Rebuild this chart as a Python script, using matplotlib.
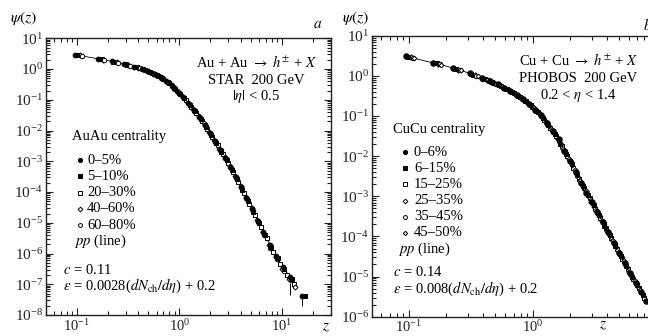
import matplotlib
matplotlib.use("Agg")
import matplotlib.pyplot as plt
from matplotlib.ticker import LogLocator, NullFormatter

plt.rcParams['font.family'] = ['Liberation Serif', 'DejaVu Serif']
plt.rcParams['mathtext.fontset'] = 'stix'

# ---- panel a: AuAu, STAR 200 GeV ----
a_labels = ['0\u20135%', '5\u201310%', '20\u201330%', '40\u201360%', '60\u201380%']

a1_z = [0.097, 0.163, 0.22, 0.29, 0.36, 0.43, 0.50, 0.58, 0.66, 0.75, 0.85, 0.96, 1.08, 1.22, 1.38, 1.56, 1.76,
        1.98, 2.22, 2.50, 2.80, 3.15, 3.55, 4.00, 4.50, 5.10, 5.80, 6.60, 7.60, 8.80, 10.2, 12.0, 15.6]
a1_psi = [2.92, 2.20, 1.78, 1.45, 1.20, 1.01, 0.85, 0.68, 0.54, 0.41, 0.28, 0.19, 0.123, 0.078, 0.047, 0.028,
          0.0155, 8.5e-3, 4.7e-3, 2.4e-3, 1.29e-3, 6.6e-4, 3.1e-4, 1.45e-4, 6.5e-5, 2.8e-5, 1.17e-5, 4.9e-6,
          1.95e-6, 8.3e-7, 3.6e-7, 1.7e-7, 4.0e-8]

a2_z = [0.100, 0.168, 0.227, 0.30, 0.37, 0.44, 0.52, 0.60, 0.68, 0.77, 0.88, 0.99, 1.11, 1.26, 1.42, 1.61, 1.81,
        2.04, 2.29, 2.57, 2.89, 3.25, 3.65, 4.12, 4.65, 5.25, 5.95, 6.80, 7.80, 9.05, 10.5, 12.4, 16.8]
a2_psi = [2.88, 2.15, 1.74, 1.41, 1.17, 0.98, 0.80, 0.64, 0.50, 0.38, 0.25, 0.172, 0.111, 0.068, 0.042, 0.0243,
          0.0135, 7.3e-3, 3.9e-3, 2.0e-3, 1.07e-3, 5.4e-4, 2.6e-4, 1.17e-4, 5.2e-5, 2.3e-5, 9.8e-6, 4.1e-6,
          1.66e-6, 7.1e-7, 3.2e-7, 1.45e-7, 4.2e-8]

a3_z = [0.106, 0.175, 0.236, 0.31, 0.385, 0.46, 0.54, 0.62, 0.70, 0.80, 0.91, 1.02, 1.15, 1.30, 1.47, 1.66, 1.87,
        2.10, 2.36, 2.65, 2.98, 3.35, 3.77, 4.25, 4.80, 5.45, 6.20, 7.10, 8.20, 9.50, 11.2, 13.0]
a3_psi = [2.80, 2.09, 1.70, 1.37, 1.13, 0.93, 0.76, 0.60, 0.47, 0.35, 0.226, 0.153, 0.096, 0.059, 0.036, 0.021,
          0.0115, 6.3e-3, 3.3e-3, 1.74e-3, 9.1e-4, 4.5e-4, 2.1e-4, 9.5e-5, 4.2e-5, 1.8e-5, 7.4e-6, 3.1e-6,
          1.1e-6, 4.5e-7, 2.0e-7, 1.0e-7]

a4_z = [0.109, 0.180, 0.245, 0.32, 0.40, 0.48, 0.56, 0.65, 0.74, 0.84, 0.95, 1.07, 1.21, 1.36, 1.54, 1.73, 1.95,
        2.19, 2.46, 2.77, 3.11, 3.50, 3.95, 4.45, 5.05, 5.75, 6.55, 7.50, 8.70, 10.1, 11.8, 13.5]
a4_psi = [2.76, 2.04, 1.65, 1.34, 1.09, 0.89, 0.71, 0.55, 0.42, 0.295, 0.195, 0.129, 0.079, 0.049, 0.0295, 0.017,
          9.3e-3, 5.0e-3, 2.6e-3, 1.38e-3, 7.1e-4, 3.4e-4, 1.55e-4, 7.0e-5, 3.0e-5, 1.23e-5, 5.1e-6, 1.9e-6,
          7.5e-7, 3.2e-7, 1.5e-7, 8.0e-8]

a5_z = [0.113, 0.186, 0.253, 0.33, 0.41, 0.49, 0.57, 0.67, 0.76, 0.87, 0.98, 1.10, 1.24, 1.40, 1.58, 1.78, 2.00,
        2.25, 2.53, 2.85, 3.20, 3.60, 4.06, 4.58, 5.18, 5.88, 6.70, 7.70, 8.95, 10.4, 12.2]
a5_psi = [2.72, 2.00, 1.61, 1.30, 1.06, 0.87, 0.69, 0.52, 0.39, 0.26, 0.178, 0.115, 0.072, 0.044, 0.0265, 0.0148,
          8.2e-3, 4.3e-3, 2.25e-3, 1.16e-3, 6.0e-4, 2.8e-4, 1.3e-4, 5.8e-5, 2.5e-5, 1.07e-5, 4.0e-6, 1.55e-6,
          6.5e-7, 2.8e-7, 1.35e-7]

a_err_z = [11.95, 15.6]
a_err_psi = [1.1e-7, 4.0e-8]
a_err_low = [4.4e-8, 1.9e-8]

pp_a_z = [0.1, 0.2, 0.3, 0.5, 0.7, 1.0, 1.5, 2.0, 3.0, 4.0, 5.0, 6.0, 8.0, 10.0, 13.0]
pp_a_psi = [2.88, 1.9, 1.41, 0.85, 0.47, 0.166, 0.033, 8.2e-3, 8.7e-4, 1.45e-4, 3.2e-5, 9.3e-6, 1.4e-6,
            4.0e-7, 1.15e-7]

# ---- panel b: CuCu, PHOBOS 200 GeV ----
b_labels = ['0\u20136%', '6\u201315%', '15\u201325%', '25\u201335%', '35\u201345%', '45\u201350%']

b1_z = [0.095, 0.157, 0.228, 0.31, 0.39, 0.45, 0.52, 0.59, 0.66, 0.74, 0.83, 0.93, 1.04, 1.16, 1.30, 1.45, 1.62,
        1.80, 2.0, 2.22, 2.46, 2.72, 3.0, 3.32, 3.68, 4.08, 4.52, 5.0, 5.55, 6.15, 6.8, 7.5, 8.3]
b1_psi = [3.05, 2.15, 1.56, 1.16, 0.88, 0.74, 0.61, 0.51, 0.42, 0.34, 0.264, 0.20, 0.145, 0.105, 0.066, 0.042,
          0.026, 0.0138, 7.4e-3, 4.0e-3, 2.15e-3, 1.2e-3, 7.1e-4, 4.0e-4, 2.24e-4, 1.26e-4, 6.9e-5, 3.9e-5,
          2.14e-5, 1.2e-5, 6.9e-6, 4.2e-6, 2.4e-6]

b2_z = [0.098, 0.162, 0.235, 0.32, 0.40, 0.465, 0.535, 0.61, 0.68, 0.76, 0.86, 0.96, 1.07, 1.20, 1.34, 1.50, 1.67,
        1.86, 2.06, 2.29, 2.53, 2.80, 3.10, 3.42, 3.80, 4.20, 4.66, 5.15, 5.70, 6.35, 7.0, 7.75]
b2_psi = [2.99, 2.10, 1.52, 1.12, 0.855, 0.71, 0.586, 0.48, 0.395, 0.32, 0.243, 0.184, 0.132, 0.089, 0.058,
          0.0355, 0.0205, 0.0115, 6.3e-3, 3.3e-3, 1.82e-3, 1.05e-3, 5.9e-4, 3.4e-4, 1.86e-4, 1.07e-4, 5.9e-5,
          3.2e-5, 1.86e-5, 1.0e-5, 6.0e-6, 3.5e-6]

b3_z = [0.101, 0.167, 0.242, 0.33, 0.41, 0.48, 0.55, 0.625, 0.70, 0.785, 0.88, 0.99, 1.10, 1.23, 1.38, 1.54, 1.72,
        1.91, 2.12, 2.36, 2.60, 2.88, 3.20, 3.52, 3.90, 4.33, 4.80, 5.30, 5.88, 6.5, 7.2, 8.0]
b3_psi = [2.93, 2.04, 1.48, 1.08, 0.83, 0.68, 0.56, 0.46, 0.376, 0.30, 0.23, 0.17, 0.126, 0.081, 0.051, 0.0316,
          0.0178, 9.8e-3, 5.2e-3, 2.75e-3, 1.58e-3, 8.9e-4, 4.9e-4, 2.9e-4, 1.62e-4, 8.9e-5, 4.9e-5, 2.8e-5,
          1.55e-5, 8.9e-6, 5.1e-6, 2.9e-6]

b4_z = [0.104, 0.172, 0.25, 0.34, 0.425, 0.49, 0.57, 0.645, 0.72, 0.81, 0.91, 1.02, 1.14, 1.27, 1.42, 1.59, 1.77,
        1.97, 2.18, 2.42, 2.68, 2.97, 3.28, 3.63, 4.02, 4.45, 4.94, 5.45, 6.05, 6.7, 7.4]
b4_psi = [2.87, 2.0, 1.44, 1.04, 0.795, 0.665, 0.53, 0.44, 0.356, 0.282, 0.21, 0.157, 0.115, 0.072, 0.0457,
          0.0275, 0.0155, 8.3e-3, 4.5e-3, 2.4e-3, 1.32e-3, 7.4e-4, 4.3e-4, 2.4e-4, 1.38e-4, 7.6e-5, 4.2e-5,
          2.4e-5, 1.32e-5, 7.6e-6, 4.5e-6]

b5_z = [0.107, 0.177, 0.257, 0.35, 0.435, 0.505, 0.585, 0.66, 0.74, 0.835, 0.935, 1.05, 1.17, 1.31, 1.46, 1.63,
        1.82, 2.02, 2.25, 2.49, 2.76, 3.05, 3.37, 3.74, 4.14, 4.58, 5.08, 5.62, 6.22, 6.9]
b5_psi = [2.82, 1.95, 1.40, 1.0, 0.77, 0.64, 0.51, 0.42, 0.34, 0.26, 0.195, 0.145, 0.102, 0.065, 0.041, 0.024,
          0.0132, 7.1e-3, 3.7e-3, 2.0e-3, 1.12e-3, 6.5e-4, 3.6e-4, 2.05e-4, 1.15e-4, 6.5e-5, 3.5e-5, 2.0e-5,
          1.12e-5, 6.5e-6]

b6_z = [0.110, 0.182, 0.265, 0.36, 0.445, 0.52, 0.60, 0.68, 0.765, 0.86, 0.965, 1.08, 1.21, 1.35, 1.51, 1.68,
        1.87, 2.08, 2.32, 2.57, 2.84, 3.14, 3.47, 3.85, 4.26, 4.72, 5.22, 5.78, 6.4, 7.1]
b6_psi = [2.76, 1.91, 1.36, 0.97, 0.75, 0.61, 0.49, 0.395, 0.316, 0.243, 0.182, 0.135, 0.093, 0.056, 0.0347,
          0.02, 0.0112, 5.9e-3, 3.1e-3, 1.7e-3, 9.5e-4, 5.5e-4, 3.2e-4, 1.74e-4, 9.8e-5, 5.4e-5, 3.0e-5, 1.7e-5,
          9.8e-6, 5.5e-6]

pp_b_z = [0.1, 0.2, 0.3, 0.5, 0.7, 1.0, 1.5, 2.0, 3.0, 4.0, 5.0, 6.0, 7.0, 8.0, 9.0, 10.0]
pp_b_psi = [2.95, 1.75, 1.2, 0.61, 0.376, 0.166, 0.0355, 7.4e-3, 7.1e-4, 1.4e-4, 3.9e-5, 1.38e-5, 6.0e-6,
            2.9e-6, 1.6e-6, 8.9e-7]

# marker styles: (marker, size, filled)
a_styles = [('o', 3.4, True), ('s', 3.0, True), ('s', 3.0, False), ('D', 2.6, False), ('o', 3.2, False)]
b_styles = [('o', 3.9, True), ('s', 3.4, True), ('s', 3.0, False), ('D', 2.8, False), ('o', 3.2, False),
            ('D', 2.4, False)]
leg_a_ms = [3.0, 2.6, 2.8, 2.4, 2.8]
leg_b_ms = [3.0, 2.6, 2.6, 2.4, 2.8, 2.2]


def style_axis(ax, ylo, yhi, xlo, xhi):
    ax.set_xscale('log')
    ax.set_yscale('log')
    ax.set_xlim(xlo, xhi)
    ax.set_ylim(ylo, yhi)
    ax.yaxis.set_major_locator(LogLocator(base=10, numticks=20))
    ax.yaxis.set_minor_locator(LogLocator(base=10, subs=range(2, 10), numticks=20))
    ax.yaxis.set_minor_formatter(NullFormatter())
    ax.xaxis.set_major_locator(LogLocator(base=10, numticks=20))
    ax.xaxis.set_minor_locator(LogLocator(base=10, subs=range(2, 10), numticks=20))
    ax.xaxis.set_minor_formatter(NullFormatter())
    ax.tick_params(which='both', direction='in', top=True, right=True, width=0.8, colors='#222222')
    ax.tick_params(which='major', length=5)
    ax.tick_params(which='minor', length=2.8)
    ax.tick_params(axis='y', which='major', pad=2, labelsize=11)
    ax.tick_params(axis='x', which='major', pad=2, labelsize=10.5)
    for s in ax.spines.values():
        s.set_linewidth(1.0)
        s.set_color('#222222')


def draw_series(ax, zs, ps, styles, order):
    for i in order:
        m, ms, filled = styles[i]
        ax.plot(zs[i], ps[i], linestyle='none', marker=m, ms=ms, mew=0.7,
                mec='black', mfc='black' if filled else 'white', zorder=3 + (1 if filled else 0))


def draw_legend(ax, title, labels, styles, sizes, x_title, x_mark, x_text, x_pp, x_c, y_title, y_items, dy,
                y_c, c_txt, e_txt):
    ax.text(x_title, y_title, title, transform=ax.transAxes, fontsize=10.5, va='center', ha='left')
    for i, lab in enumerate(labels):
        m, ms, filled = styles[i]
        y = y_items - i * dy
        ax.plot([x_mark], [y], transform=ax.transAxes, linestyle='none', marker=m, ms=sizes[i], mew=0.7,
                mec='black', mfc='black' if filled else 'white', clip_on=False)
        ax.text(x_text, y, lab, transform=ax.transAxes, fontsize=10.5, va='center', ha='left')
    y = y_items - len(labels) * dy
    ax.text(x_pp, y, r'$pp$ (line)', transform=ax.transAxes, fontsize=10.5, va='center', ha='left')
    ax.text(x_c, y_c, c_txt, transform=ax.transAxes, fontsize=10.5, va='center', ha='left')
    ax.text(x_c, y_c - 0.058, e_txt, transform=ax.transAxes, fontsize=10.5, va='center', ha='left')


fig = plt.figure(figsize=(6.48, 3.36), dpi=100)
ax_a = fig.add_axes([0.0705, 0.0625, 0.4403, 0.8235])
ax_b = fig.add_axes([0.5736, 0.0574, 0.5306, 0.8363])

# panel a
style_axis(ax_a, 1e-8, 1e1, 0.05, 30)
ax_a.plot(pp_a_z, pp_a_psi, color='black', lw=0.6, zorder=2)
a_z = [a1_z, a2_z, a3_z, a4_z, a5_z]
a_psi = [a1_psi, a2_psi, a3_psi, a4_psi, a5_psi]
draw_series(ax_a, a_z, a_psi, a_styles, [2, 3, 4, 0, 1])
a_lo = [p - l for p, l in zip(a_err_psi, a_err_low)]
ax_a.errorbar(a_err_z, a_err_psi, yerr=[a_lo, [0, 0]], fmt='none', ecolor='black', elinewidth=0.7, zorder=2)

ax_a.text(0.737, 0.914, r'Au + Au $\rightarrow$ $h^{\pm}$ + $X$', transform=ax_a.transAxes,
          fontsize=10.5, ha='center', va='center')
ax_a.text(0.737, 0.849, 'STAR  200 GeV', transform=ax_a.transAxes, fontsize=10.5, ha='center', va='center')
ax_a.text(0.737, 0.788, r'$|\eta|$ < 0.5', transform=ax_a.transAxes, fontsize=10.5, ha='center', va='center')
draw_legend(ax_a, 'AuAu centrality', a_labels, a_styles, leg_a_ms, 0.092, 0.120, 0.145, 0.099, 0.061,
            0.645, 0.560, 0.0588, 0.163, r'$c$ = 0.11',
            r'$\varepsilon$ = 0.0028($dN_{\rm ch}/d\eta$) + 0.2')

# panel b
style_axis(ax_b, 1e-6, 1e1, 0.05, 30)
ax_b.plot(pp_b_z, pp_b_psi, color='black', lw=0.6, zorder=2)
b_z = [b1_z, b2_z, b3_z, b4_z, b5_z, b6_z]
b_psi = [b1_psi, b2_psi, b3_psi, b4_psi, b5_psi, b6_psi]
draw_series(ax_b, b_z, b_psi, b_styles, [2, 3, 4, 5, 0, 1])

ax_b.text(0.600, 0.913, r'Cu + Cu $\rightarrow$ $h^{\pm}$ + $X$', transform=ax_b.transAxes,
          fontsize=10.5, ha='center', va='center')
ax_b.text(0.600, 0.849, 'PHOBOS  200 GeV', transform=ax_b.transAxes, fontsize=10.5, ha='center', va='center')
ax_b.text(0.600, 0.789, r'0.2 < $\eta$ < 1.4', transform=ax_b.transAxes, fontsize=10.5, ha='center', va='center')
draw_legend(ax_b, 'CuCu centrality', b_labels, b_styles, leg_b_ms, 0.062, 0.097, 0.123, 0.076, 0.062,
            0.665, 0.586, 0.0575, 0.159, r'$c$ = 0.14',
            r'$\varepsilon$ = 0.008($dN_{\rm ch}/d\eta$) + 0.2')

# axis titles and panel letters
fig.text(10 / 648, 1 - 18 / 336, r'$\psi(z)$', fontsize=11.5, ha='left', va='center')
fig.text(342 / 648, 1 - 18 / 336, r'$\psi(z)$', fontsize=11.5, ha='left', va='center')
fig.text(313 / 648, 1 - 25 / 336, r'$a$', fontsize=11, ha='left', va='center')
fig.text(643 / 648, 1 - 25 / 336, r'$b$', fontsize=11, ha='left', va='center')
fig.text(326 / 648, 1 - 327 / 336, r'$z$', fontsize=11, ha='center', va='center')
fig.text(603 / 648, 1 - 325 / 336, r'$z$', fontsize=11, ha='center', va='center')

fig.savefig('out.png', dpi=100)
